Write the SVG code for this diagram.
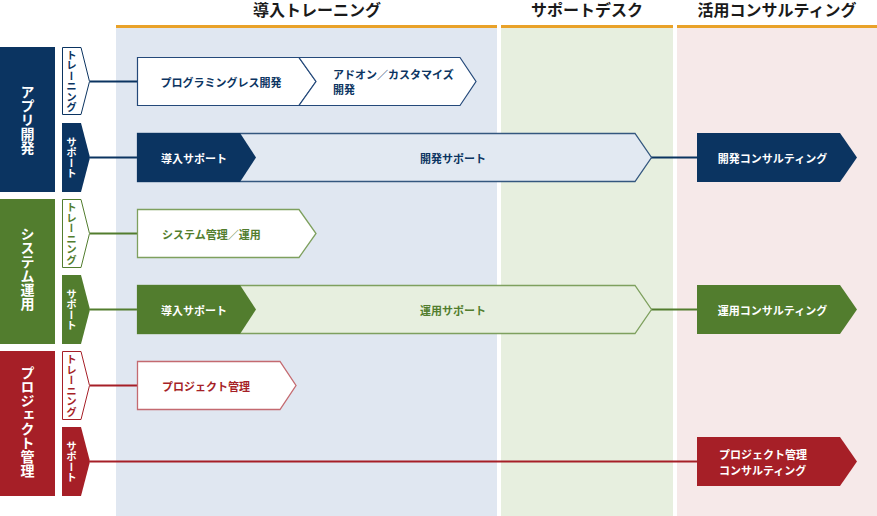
<svg xmlns="http://www.w3.org/2000/svg" width="877" height="516" viewBox="0 0 877 516">
<style>
text{font-family:"Noto Sans CJK JP","Noto Sans",sans-serif;font-weight:700}
.hd{font-size:16px;fill:#1a1a1a;text-anchor:middle}
.vt{writing-mode:vertical-rl;text-anchor:middle;font-size:14px;fill:#fff}
.tg{writing-mode:vertical-rl;text-anchor:middle;font-size:10.5px}
.bx{font-size:11px;dominant-baseline:central}
.w{fill:#fff}
.nb{fill:#0b3461}.ng{fill:#527d2e}.nr{fill:#a61f27}
.cb{stroke:#0b3461}.cg{stroke:#527d2e}.cr{stroke:#a61f27}
.ln{stroke-width:2;fill:none}
</style>
<g id="columns">
<rect x="116" y="28" width="381" height="488" fill="#e0e7f1"/>
<rect x="501" y="28" width="172" height="488" fill="#e7efdf"/>
<rect x="677" y="28" width="200" height="488" fill="#f6e9e9"/>
<rect x="116" y="25" width="381" height="3" fill="#e9a229"/>
<rect x="501" y="25" width="172" height="3" fill="#e9a229"/>
<rect x="677" y="25" width="200" height="3" fill="#e9a229"/>
<text class="hd" x="317" y="15.5">導入トレーニング</text>
<text class="hd" x="587" y="15.5">サポートデスク</text>
<text class="hd" x="777" y="15.5">活用コンサルティング</text>
</g>
<g id="connectors">
<line class="ln cb" x1="90" y1="81.5" x2="137" y2="81.5"/>
<line class="ln cb" x1="90" y1="157.5" x2="137" y2="157.5"/>
<line class="ln cb" x1="651" y1="157.5" x2="697" y2="157.5"/>
<line class="ln cg" x1="90" y1="233.5" x2="137" y2="233.5"/>
<line class="ln cg" x1="90" y1="309.5" x2="137" y2="309.5"/>
<line class="ln cg" x1="651" y1="309.5" x2="697" y2="309.5"/>
<line class="ln cr" x1="90" y1="385.5" x2="137" y2="385.5"/>
<line class="ln cr" x1="90" y1="461.5" x2="697" y2="461.5"/>
</g>
<g id="app-dev">
<rect class="nb" x="0" y="47" width="55" height="145"/>
<text class="vt" x="27.5" y="119.5">アプリ開発</text>
</g>
<g id="app-training-tag">
<polygon points="62.5,47.5 81,47.5 89.5,81.5 81,114.5 62.5,114.5" fill="#fff" stroke="#0b3461"/>
<text class="tg nb" x="71.5" y="81">トレーニング</text>
</g>
<g id="app-support-tag">
<polygon class="nb" points="62,123 81,123 90,157.5 81,192 62,192"/>
<text class="tg w" x="71.5" y="157.5">サポート</text>
</g>
<g id="programless">
<polygon points="137.5,57.5 299,57.5 316,81.5 299,105.5 137.5,105.5" fill="#fff" stroke="#24497a" stroke-width="1.2"/>
<text class="bx nb" x="221" y="81.5" text-anchor="middle">プログラミングレス開発</text>
</g>
<g id="addon">
<polygon points="299,57.5 460,57.5 476,81.5 460,105.5 299,105.5 316,81.5" fill="#fff" stroke="#24497a" stroke-width="1.2"/>
<text class="bx nb" x="333" y="73.5">アドオン／カスタマイズ</text>
<text class="bx nb" x="333" y="89">開発</text>
</g>
<g id="dev-support">
<polygon points="137.5,133.5 635,133.5 651.5,157.5 635,181.5 137.5,181.5" fill="#e2e9f2" stroke="#34577f" stroke-width="1.3"/>
<text class="bx nb" x="453" y="157.5" text-anchor="middle">開発サポート</text>
</g>
<g id="app-intro-support">
<polygon class="nb" points="137,133 240,133 256,157.5 240,182 137,182"/>
<text class="bx w" x="194" y="157.5" text-anchor="middle">導入サポート</text>
</g>
<g id="dev-consulting">
<polygon class="nb" points="697,133 840,133 857,157.5 840,182 697,182"/>
<text class="bx w" x="772.5" y="157.5" text-anchor="middle">開発コンサルティング</text>
</g>
<g id="sys-ops">
<rect class="ng" x="0" y="199" width="55" height="145"/>
<text class="vt" x="27.5" y="269">システム運用</text>
</g>
<g id="sys-training-tag">
<polygon points="62.5,199.5 81,199.5 89.5,233.5 81,267.5 62.5,267.5" fill="#fff" stroke="#527d2e"/>
<text class="tg ng" x="71.5" y="233.5">トレーニング</text>
</g>
<g id="sys-support-tag">
<polygon class="ng" points="62,275 81,275 90,309.5 81,344 62,344"/>
<text class="tg w" x="71.5" y="309.5">サポート</text>
</g>
<g id="sys-mgmt">
<polygon points="137.5,209.5 299,209.5 316,233.5 299,257.5 137.5,257.5" fill="#fff" stroke="#7ea05e" stroke-width="1.3"/>
<text class="bx ng" x="162" y="233.5">システム管理／運用</text>
</g>
<g id="ops-support">
<polygon points="137.5,285.5 635,285.5 651.5,309.5 635,333.5 137.5,333.5" fill="#e7efdf" stroke="#7ea05e" stroke-width="1.3"/>
<text class="bx ng" x="453" y="309.5" text-anchor="middle">運用サポート</text>
</g>
<g id="sys-intro-support">
<polygon class="ng" points="137,285 240,285 256,309.5 240,334 137,334"/>
<text class="bx w" x="194" y="309.5" text-anchor="middle">導入サポート</text>
</g>
<g id="ops-consulting">
<polygon class="ng" points="697,285 840,285 857,309.5 840,334 697,334"/>
<text class="bx w" x="772.5" y="309.5" text-anchor="middle">運用コンサルティング</text>
</g>
<g id="pm">
<rect class="nr" x="0" y="351" width="55" height="145"/>
<text class="vt" x="27.5" y="421.5">プロジェクト管理</text>
</g>
<g id="pm-training-tag">
<polygon points="62.5,351.5 81,351.5 89.5,385.5 81,419.5 62.5,419.5" fill="#fff" stroke="#a61f27"/>
<text class="tg nr" x="71.5" y="385.5">トレーニング</text>
</g>
<g id="pm-support-tag">
<polygon class="nr" points="62,427 81,427 90,461.5 81,496 62,496"/>
<text class="tg w" x="71.5" y="461.5">サポート</text>
</g>
<g id="pm-box">
<polygon points="137.5,361.5 280,361.5 296,385.5 280,409.5 137.5,409.5" fill="#fff" stroke="#c46a70" stroke-width="1.3"/>
<text class="bx nr" x="162" y="385.5">プロジェクト管理</text>
</g>
<g id="pm-consulting">
<polygon class="nr" points="697,437 840,437 857,461.5 840,486 697,486"/>
<text class="bx w" x="719" y="453.5">プロジェクト管理</text>
<text class="bx w" x="719" y="469.5">コンサルティング</text>
</g>
</svg>
